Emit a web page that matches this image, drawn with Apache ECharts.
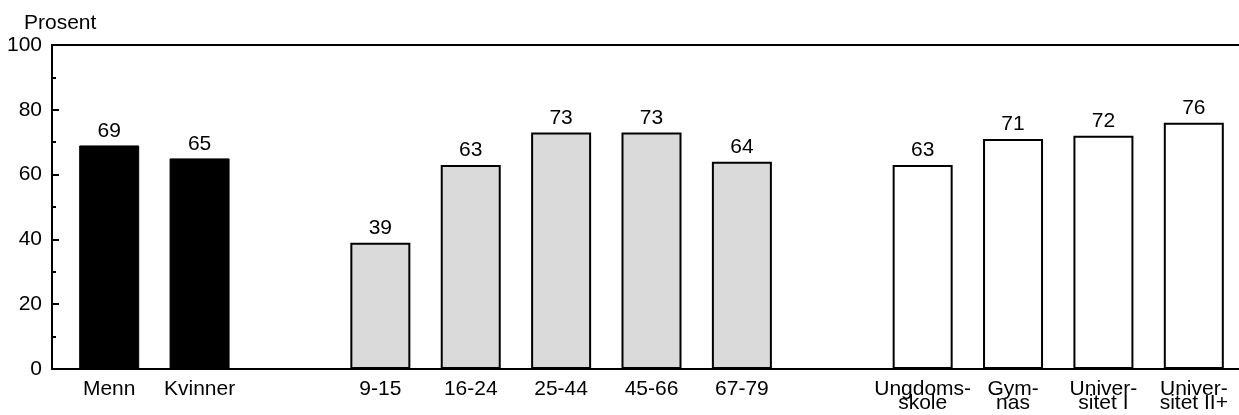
<!DOCTYPE html>
<html>
<head>
<meta charset="utf-8">
<script src="https://cdn.jsdelivr.net/npm/echarts@6/dist/echarts.min.js"></script>
<style>
html,body{margin:0;padding:0;background:#fff;}
#chart{width:1239px;height:415px;}
</style>
</head>
<body>
<div id="chart"></div>
<script>
const categories = ['Menn', 'Kvinner', ' ', '9-15', '16-24', '25-44', '45-66', '67-79', '  ', 'Ungdoms-\nskole', 'Gym-\nnas', 'Univer-\nsitet I', 'Univer-\nsitet II+'];
const genderCats = ['Menn', 'Kvinner'];
const genderValues = [69, 65];
const ageCats = ['9-15', '16-24', '25-44', '45-66', '67-79'];
const ageValues = [39, 63, 73, 73, 64];
const eduCats = ['Ungdoms-\nskole', 'Gym-\nnas', 'Univer-\nsitet I', 'Univer-\nsitet II+'];
const eduValues = [63, 71, 72, 76];
const yTicks = [0, 20, 40, 60, 80, 100];

const FONT = '"Liberation Sans", Arial, sans-serif';

function seriesData(cats, vals) {
  return categories.map(c => {
    const i = cats.indexOf(c);
    return i >= 0 ? vals[i] : null;
  });
}

const labelStyle = {
  show: true, position: 'top', distance: 4,
  color: '#000', fontFamily: FONT, fontSize: 21
};

const chart = echarts.init(document.getElementById('chart'));
chart.setOption({
  animation: false,
  backgroundColor: '#fff',
  title: {
    text: 'Prosent', left: 19, top: 8,
    textStyle: { fontFamily: FONT, fontSize: 21, fontWeight: 'normal', color: '#000' }
  },
  grid: [
    { left: 52, right: 0, top: 45, bottom: 46 },
    { left: 64, right: 0, top: 45, bottom: 46 }
  ],
  xAxis: [
    { gridIndex: 0, type: 'value', min: 0, max: 1, position: 'bottom',
      axisLine: { show: true, lineStyle: { color: '#000', width: 2 } },
      axisTick: { show: false }, axisLabel: { show: false }, splitLine: { show: false } },
    { gridIndex: 0, type: 'value', min: 0, max: 1, position: 'top',
      axisLine: { show: true, lineStyle: { color: '#000', width: 2 } },
      axisTick: { show: false }, axisLabel: { show: false }, splitLine: { show: false } },
    { gridIndex: 1, type: 'category', data: categories, position: 'bottom',
      axisLine: { show: false }, axisTick: { show: false }, splitLine: { show: false },
      axisLabel: { color: '#000', fontFamily: FONT, fontSize: 21, lineHeight: 14, margin: 13, interval: 0 } }
  ],
  yAxis: [
    { gridIndex: 0, type: 'value', min: yTicks[0], max: yTicks[yTicks.length - 1], interval: 20,
      axisLine: { show: true, lineStyle: { color: '#000', width: 2 } },
      axisTick: { show: true, inside: true, length: 7, lineStyle: { color: '#000', width: 2 } },
      minorTick: { show: true, splitNumber: 2, length: 4, lineStyle: { color: '#000', width: 2 } },
      axisLabel: { color: '#000', fontFamily: FONT, fontSize: 21, margin: 10 },
      splitLine: { show: false }, minorSplitLine: { show: false } },
    { gridIndex: 1, type: 'value', min: 0, max: 100, show: false }
  ],
  series: [
    { type: 'bar', xAxisIndex: 2, yAxisIndex: 1, stack: 'all', barWidth: 60,
      data: seriesData(genderCats, genderValues),
      itemStyle: { color: '#000', borderColor: '#000', borderWidth: 1 },
      label: labelStyle },
    { type: 'bar', xAxisIndex: 2, yAxisIndex: 1, stack: 'all', barWidth: 60,
      data: seriesData(ageCats, ageValues),
      itemStyle: { color: '#dadada', borderColor: '#000', borderWidth: 2 },
      label: labelStyle },
    { type: 'bar', xAxisIndex: 2, yAxisIndex: 1, stack: 'all', barWidth: 60,
      data: seriesData(eduCats, eduValues),
      itemStyle: { color: '#fff', borderColor: '#000', borderWidth: 2 },
      label: labelStyle }
  ]
});
</script>
</body>
</html>
